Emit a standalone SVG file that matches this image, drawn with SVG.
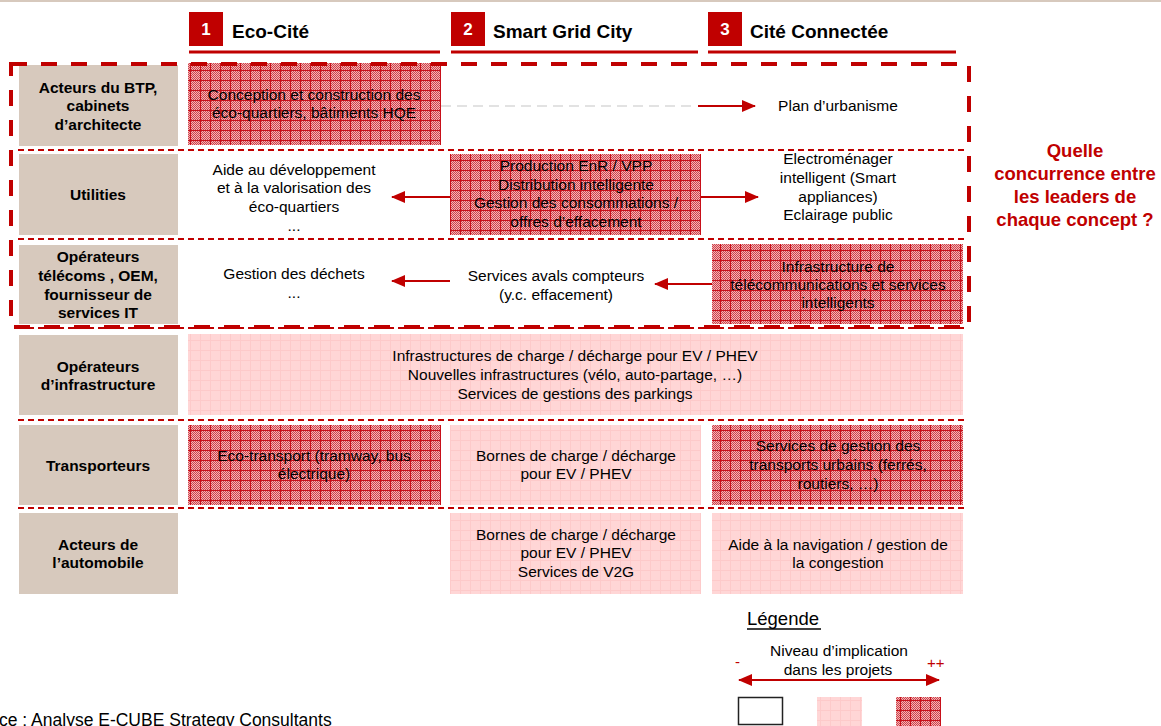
<svg xmlns="http://www.w3.org/2000/svg" width="1161" height="726" viewBox="0 0 1161 726">
<style>
text{font-family:"Liberation Sans",Arial,sans-serif;fill:#000}
.lbl{font-size:15.5px;font-weight:bold;text-anchor:middle}
.cell{font-size:15.5px;text-anchor:middle}
.title{font-size:19px;font-weight:bold}
.num{font-size:17px;font-weight:bold;fill:#fff;text-anchor:middle}
.q{font-size:18.5px;font-weight:bold;fill:#C00000;text-anchor:middle}
.lblbox{fill:#D7C9BD}
.sep{stroke:#C00000;stroke-width:2;stroke-dasharray:6 4;fill:none}
.arr{stroke:#C00000;stroke-width:2;fill:none}
</style>
<defs>
<pattern id="dots" width="2" height="2" patternUnits="userSpaceOnUse">
<rect width="2" height="2" fill="#F2B3B6"/>
<rect width="1" height="1" fill="#CF424A"/>
<rect x="1" y="1" width="1" height="1" fill="#CF424A"/>
</pattern>
<pattern id="hatch" width="10" height="10" patternUnits="userSpaceOnUse">
<rect width="10" height="10" fill="url(#dots)"/>
<path d="M0.5,0V10M0,0.5H10" stroke="#C8101A" stroke-width="1"/>
</pattern>
<pattern id="pink" width="10" height="10" patternUnits="userSpaceOnUse">
<rect width="10" height="10" fill="#FFD6D6"/>
<path d="M0.5,0V10M0,0.5H10" stroke="#FDCACA" stroke-width="1"/>
</pattern>
<marker id="ah" markerUnits="userSpaceOnUse" markerWidth="14" markerHeight="12" refX="13" refY="6" orient="auto-start-reverse">
<path d="M0,0 L14,6 L0,12 z" fill="#C00000"/>
</marker>
</defs>
<rect width="1161" height="726" fill="#fff"/>
<line x1="0" y1="1" x2="1161" y2="1" stroke="#D7C9BD" stroke-width="2"/>

<g id="headers">
<rect x="189" y="12" width="34" height="34" fill="#C00000"/>
<text class="num" x="206" y="35">1</text>
<text class="title" x="232" y="38">Eco-Cité</text>
<line x1="189" y1="52" x2="440" y2="52" stroke="#C00000" stroke-width="3"/>
<rect x="451" y="12" width="34" height="34" fill="#C00000"/>
<text class="num" x="468" y="35">2</text>
<text class="title" x="493" y="38">Smart Grid City</text>
<line x1="451" y1="52" x2="698" y2="52" stroke="#C00000" stroke-width="3"/>
<rect x="708" y="12" width="34" height="34" fill="#C00000"/>
<text class="num" x="725" y="35">3</text>
<text class="title" x="750" y="38">Cité Connectée</text>
<line x1="708" y1="52" x2="956" y2="52" stroke="#C00000" stroke-width="3"/>
</g>

<g id="row-labels">
<g id="lbl-btp"><rect class="lblbox" x="19" y="65" width="159" height="81"/>
<text class="lbl" x="98" y="93">Acteurs du BTP,</text><text class="lbl" x="98" y="111">cabinets</text><text class="lbl" x="98" y="130">d’architecte</text></g>
<g id="lbl-utilities"><rect class="lblbox" x="19" y="154" width="159" height="81"/>
<text class="lbl" x="98" y="200">Utilities</text></g>
<g id="lbl-telecom"><rect class="lblbox" x="19" y="245" width="159" height="79"/>
<text class="lbl" x="98" y="262">Opérateurs</text><text class="lbl" x="98" y="281">télécoms , OEM,</text><text class="lbl" x="98" y="300">fournisseur de</text><text class="lbl" x="98" y="318">services IT</text></g>
<g id="lbl-infra"><rect class="lblbox" x="19" y="335" width="159" height="80"/>
<text class="lbl" x="98" y="372">Opérateurs</text><text class="lbl" x="98" y="390">d’infrastructure</text></g>
<g id="lbl-transport"><rect class="lblbox" x="19" y="425" width="159" height="80"/>
<text class="lbl" x="98" y="471">Transporteurs</text></g>
<g id="lbl-auto"><rect class="lblbox" x="19" y="513" width="159" height="81"/>
<text class="lbl" x="98" y="550">Acteurs de</text><text class="lbl" x="98" y="568">l’automobile</text></g>
</g>

<g id="cells">
<g id="c11"><rect x="188" y="63" width="253" height="82" fill="url(#hatch)"/>
<text class="cell" x="314" y="100">Conception et construction des</text><text class="cell" x="314" y="118">éco-quartiers, bâtiments HQE</text></g>
<g id="c13"><text class="cell" x="838" y="111">Plan d’urbanisme</text></g>
<g id="c21"><text class="cell" x="294" y="175">Aide au développement</text><text class="cell" x="294" y="193">et à la valorisation des</text><text class="cell" x="294" y="212">éco-quartiers</text><text class="cell" x="294" y="231">...</text></g>
<g id="c22"><rect x="450" y="154" width="251" height="81" fill="url(#hatch)"/>
<text class="cell" x="576" y="171">Production EnR / VPP</text><text class="cell" x="576" y="190">Distribution intelligente</text><text class="cell" x="576" y="208">Gestion des consommations /</text><text class="cell" x="576" y="227">offres d’effacement</text></g>
<g id="c23"><text class="cell" x="838" y="164">Electroménager</text><text class="cell" x="838" y="183">intelligent (Smart</text><text class="cell" x="838" y="202">appliances)</text><text class="cell" x="838" y="220">Eclairage public</text><text class="cell" x="838" y="240">...</text></g>
<g id="c31"><text class="cell" x="294" y="279">Gestion des déchets</text><text class="cell" x="294" y="298">...</text></g>
<g id="c32"><text class="cell" x="556" y="281">Services avals compteurs</text><text class="cell" x="556" y="300">(y.c. effacement)</text></g>
<g id="c33"><rect x="712" y="244" width="251" height="80" fill="url(#hatch)"/>
<text class="cell" x="838" y="272">Infrastructure de</text><text class="cell" x="838" y="290">télécommunications et services</text><text class="cell" x="838" y="308">intelligents</text></g>
<g id="c4"><rect x="188" y="334" width="775" height="81" fill="url(#pink)"/>
<text class="cell" x="575" y="361">Infrastructures de charge / décharge pour EV / PHEV</text><text class="cell" x="575" y="380">Nouvelles infrastructures (vélo, auto-partage, …)</text><text class="cell" x="575" y="399">Services de gestions des parkings</text></g>
<g id="c51"><rect x="188" y="425" width="253" height="80" fill="url(#hatch)"/>
<text class="cell" x="314" y="461">Eco-transport (tramway, bus</text><text class="cell" x="314" y="479">électrique)</text></g>
<g id="c52"><rect x="450" y="425" width="251" height="80" fill="url(#pink)"/>
<text class="cell" x="576" y="461">Bornes de charge / décharge</text><text class="cell" x="576" y="479">pour EV / PHEV</text></g>
<g id="c53"><rect x="712" y="425" width="251" height="80" fill="url(#hatch)"/>
<text class="cell" x="838" y="451">Services de gestion des</text><text class="cell" x="838" y="470">transports urbains (ferrés,</text><text class="cell" x="838" y="489">routiers, …)</text></g>
<g id="c62"><rect x="450" y="513" width="251" height="81" fill="url(#pink)"/>
<text class="cell" x="576" y="540">Bornes de charge / décharge</text><text class="cell" x="576" y="558">pour EV / PHEV</text><text class="cell" x="576" y="577">Services de V2G</text></g>
<g id="c63"><rect x="712" y="513" width="251" height="81" fill="url(#pink)"/>
<text class="cell" x="838" y="550">Aide à la navigation / gestion de</text><text class="cell" x="838" y="568">la congestion</text></g>
</g>

<g id="separators">
<line class="sep" x1="18" y1="150" x2="968" y2="150"/>
<line class="sep" x1="18" y1="239" x2="968" y2="239"/>
<line class="sep" x1="18" y1="328" x2="968" y2="328"/>
<line class="sep" x1="18" y1="420" x2="968" y2="420"/>
<line class="sep" x1="18" y1="508" x2="968" y2="508"/>
<rect x="11" y="64" width="958" height="263" fill="none" stroke="#C00000" stroke-width="4" stroke-dasharray="16 14"/>
</g>

<g id="connectors">
<line x1="441" y1="106" x2="692" y2="106" stroke="#D9D9D9" stroke-width="1.5" stroke-dasharray="10 6"/>
<line class="arr" x1="698" y1="106" x2="755" y2="106" marker-end="url(#ah)"/>
<line class="arr" x1="450" y1="197" x2="392" y2="197" marker-end="url(#ah)"/>
<line class="arr" x1="701" y1="197" x2="758" y2="197" marker-end="url(#ah)"/>
<line class="arr" x1="450" y1="281" x2="392" y2="281" marker-end="url(#ah)"/>
<line class="arr" x1="712" y1="284" x2="655" y2="284" marker-end="url(#ah)"/>
</g>

<g id="question">
<text class="q" x="1075" y="157">Quelle</text>
<text class="q" x="1075" y="180">concurrence entre</text>
<text class="q" x="1075" y="203">les leaders de</text>
<text class="q" x="1075" y="226">chaque concept ?</text>
</g>

<g id="legend">
<text x="747" y="625" style="font-size:18.5px">Légende</text>
<line x1="747" y1="629" x2="821" y2="629" stroke="#000" stroke-width="1.5"/>
<text class="cell" x="839" y="656">Niveau d’implication</text>
<text class="cell" x="838" y="675">dans les projets</text>
<text x="735" y="667" style="font-size:15px;fill:#C00000">-</text>
<text x="927" y="668" style="font-size:15px;fill:#C00000">++</text>
<line class="arr" x1="739" y1="680" x2="939" y2="680" stroke-width="2.5" marker-start="url(#ah)" marker-end="url(#ah)"/>
<rect x="738.5" y="697.5" width="44" height="27" fill="#fff" stroke="#222" stroke-width="1.5"/>
<rect x="817" y="697" width="45" height="29" fill="url(#pink)"/>
<rect x="896" y="697" width="45" height="29" fill="url(#hatch)"/>
</g>

<text x="-1" y="726" style="font-size:17.5px">ce : Analyse E-CUBE Strategy Consultants</text>
</svg>
